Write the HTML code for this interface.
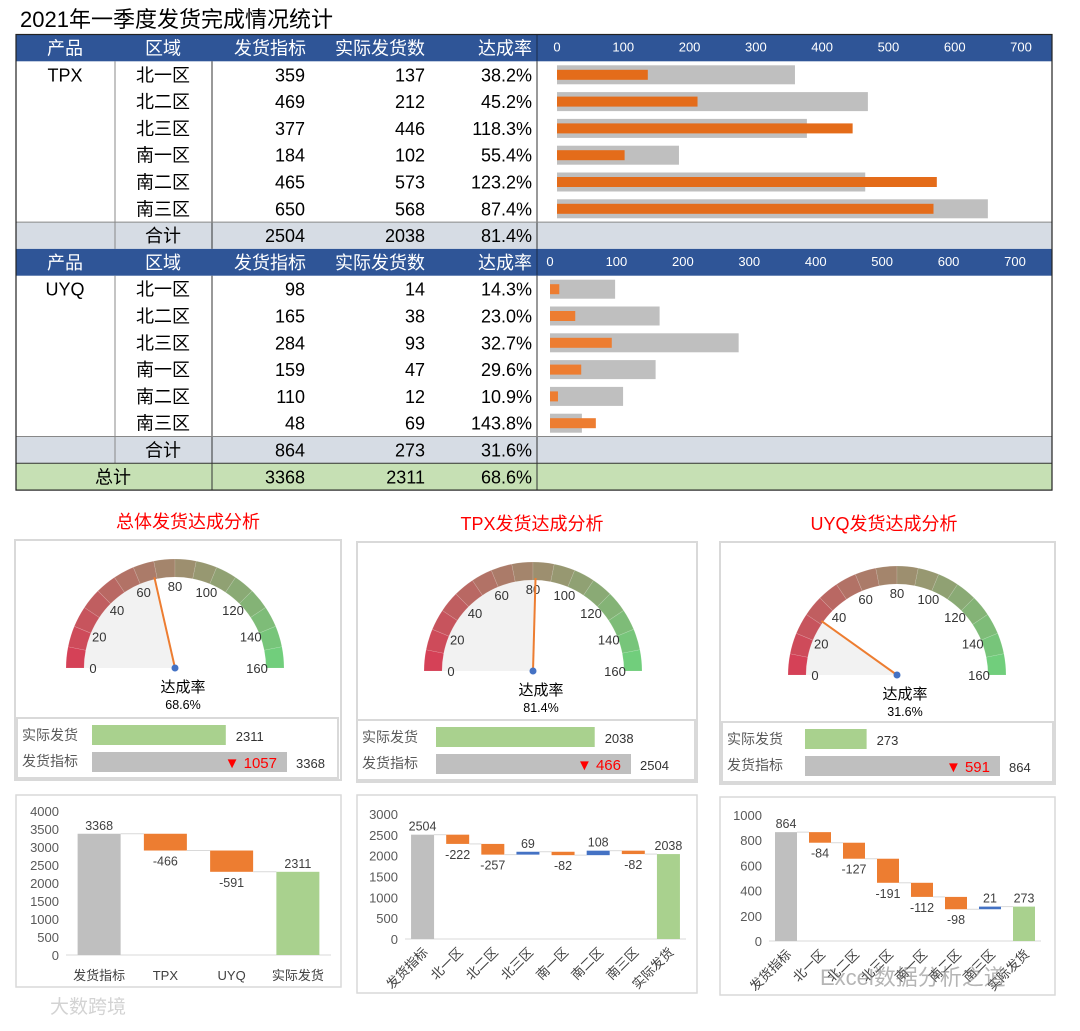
<!DOCTYPE html>
<html><head><meta charset="utf-8"><style>
body{margin:0;background:#fff;}
svg text{font-family:"Liberation Sans","Noto Sans CJK SC",sans-serif;}
</style></head><body>
<svg id="s" width="1080" height="1026" viewBox="0 0 1080 1026" xmlns="http://www.w3.org/2000/svg"></svg>
<script>
const regions=["北一区","北二区","北三区","南一区","南二区","南三区"];
const tpxTarget=[359,469,377,184,465,650];
const tpxActual=[137,212,446,102,573,568];
const uyqTarget=[98,165,284,159,110,48];
const uyqActual=[14,38,93,47,12,69];
const axisTicks=[0,100,200,300,400,500,600,700];
const gaugeTicks=[0,20,40,60,80,100,120,140,160];

const S=document.getElementById('s');
const NS='http://www.w3.org/2000/svg';
function mk(tag,attrs,parent){const e=document.createElementNS(NS,tag);for(const k in attrs)e.setAttribute(k,attrs[k]);(parent||S).appendChild(e);return e;}
function tx(x,y,str,size,fill,anchor,extra){const e=mk('text',Object.assign({x:x,y:y,'font-size':size,fill:fill||'#000','text-anchor':anchor||'start'},extra||{}));e.textContent=str;return e;}
const sum=a=>a.reduce((p,c)=>p+c,0);
const pct=(a,t)=>(a/t*100).toFixed(1)+'%';

let t=tx(20,27,"2021年一季度发货完成情况统计",22,'#000');


const RH=26.8, T0=34.5, L=16, R=1052;
function rowY(i){return T0+i*RH;}
const headers=["产品","区域","发货指标","实际发货数","达成率"];
function header(i,startVal0,axisX1){
  const y=rowY(i);
  let r=mk('rect',{x:L,y:y,width:R-L,height:RH,fill:'#2F5597'});
  
  const cx=[65,163,270,380,505];
  headers.forEach((h,k)=>{let e=tx(k==4?532:cx[k],y+20,h,18,'#fff',k==4?'end':'middle');});
  mk('line',{x1:537,y1:y,x2:537,y2:y+RH,stroke:'#1a2a4a','stroke-width':1});
  const sc=(axisX1-startVal0)/700;
  axisTicks.forEach(v=>{let e=tx(startVal0+v*sc,y+17,String(v),13,'#fff','middle');});
}
function block(start,name,tgt,act,x0,x1){
  header(start,x0,x1);
  const sc=(x1-x0)/700;
  for(let i=0;i<regions.length;i++){
    const y=rowY(start+1+i);
    if(i==0){let e=tx(65,y+20,name,18,'#000','middle');}
    let a=tx(163,y+20,regions[i],18,'#000','middle');
    tx(305,y+20,String(tgt[i]),18,'#000','end');
    tx(425,y+20,String(act[i]),18,'#000','end');
    tx(532,y+20,pct(act[i],tgt[i]),18,'#000','end');
    let g=mk('rect',{x:x0,y:y+4,width:tgt[i]*sc,height:19,fill:'#BFBFBF'});
    
    let o=mk('rect',{x:x0,y:y+8.5,width:act[i]*sc,height:10,fill:name=='TPX'?'#E46C1A':'#ED7D31'});
    
  }
  const ys=rowY(start+7);
  let r=mk('rect',{x:L,y:ys,width:R-L,height:RH,fill:'#D6DCE4'});
  
  tx(163,ys+20,"合计",18,'#000','middle');
  tx(305,ys+20,String(sum(tgt)),18,'#000','end');
  tx(425,ys+20,String(sum(act)),18,'#000','end');
  tx(532,ys+20,pct(sum(act),sum(tgt)),18,'#000','end');
  [[115,'#888'],[212,'#333'],[537,'#333']].forEach(([x,c])=>mk('line',{x1:x,y1:rowY(start+1),x2:x,y2:ys+RH,stroke:c,'stroke-width':1}));
  mk('line',{x1:L,y1:ys,x2:R,y2:ys,stroke:'#888'});
}
block(0,'TPX',tpxTarget,tpxActual,557,1021);
block(8,'UYQ',uyqTarget,uyqActual,550,1015);
const yt=rowY(16);
let tr=mk('rect',{x:L,y:yt,width:R-L,height:RH,fill:'#C6E0B4'});

const allT=sum(tpxTarget)+sum(uyqTarget), allA=sum(tpxActual)+sum(uyqActual);
tx(113,yt+20,"总计",18,'#000','middle');
tx(305,yt+20,String(allT),18,'#000','end');
tx(425,yt+20,String(allA),18,'#000','end');
tx(532,yt+20,pct(allA,allT),18,'#000','end');
[212,537].forEach(x=>mk('line',{x1:x,y1:yt,x2:x,y2:yt+RH,stroke:'#333'}));
mk('line',{x1:L,y1:yt,x2:R,y2:yt,stroke:'#333'});
mk('rect',{x:L,y:T0,width:R-L,height:17*RH,fill:'none',stroke:'#222','stroke-width':1.2});

function lerp(a,b,t){return Math.round(a+(b-a)*t);}
function segColor(f){
  const c0=[217,60,85],c1=[160,138,110],c2=[110,210,125];
  let a,b,t;if(f<0.5){a=c0;b=c1;t=f/0.5;}else{a=c1;b=c2;t=(f-0.5)/0.5;}
  return `rgb(${lerp(a[0],b[0],t)},${lerp(a[1],b[1],t)},${lerp(a[2],b[2],t)})`;
}
function pt(cx,cy,r,v){const p=Math.PI*(1-v/160);return [cx+r*Math.cos(p),cy-r*Math.sin(p)];}
function gauge(o){
  let box=mk('rect',{x:o.bx,y:o.by,width:o.bw,height:o.bh,fill:'#fff',stroke:'#D9D9D9','stroke-width':2});
  
  let ttl=tx(o.tx,o.by-12,o.title,18,'#FF0000','middle');
  
  const {cx,cy}=o,R=109,r=91,v=o.rate*100;
  const w=pt(cx,cy,r,Math.min(v,160));
  let wd=mk('path',{d:`M${cx},${cy} L${cx-r},${cy} A${r},${r} 0 0 1 ${w[0]},${w[1]} Z`,fill:'#F2F2F2'});
  
  for(let k=0;k<16;k++){
    const a=pt(cx,cy,R,k*10),b=pt(cx,cy,R,k*10+10),c=pt(cx,cy,r,k*10+10),d=pt(cx,cy,r,k*10);
    let s=mk('path',{d:`M${a[0]},${a[1]} A${R},${R} 0 0 1 ${b[0]},${b[1]} L${c[0]},${c[1]} A${r},${r} 0 0 0 ${d[0]},${d[1]} Z`,fill:segColor((k+0.5)/16),stroke:'rgba(255,255,255,0.2)','stroke-width':0.6});
    
  }
  gaugeTicks.forEach(g=>{const p=pt(cx,cy,82,g);let e=tx(p[0],p[1]+5,String(g),13,'#333','middle');});
  const n=pt(cx,cy,r+2,v);
  let nd=mk('line',{x1:cx,y1:cy,x2:n[0],y2:n[1],stroke:'#ED7D31','stroke-width':2});
  
  mk('circle',{cx:cx,cy:cy,r:3.5,fill:'#4472C4'});
  tx(cx+8,cy+24,"达成率",15,'#000','middle');
  tx(cx+8,cy+41,(o.rate*100).toFixed(1)+'%',12.5,'#000','middle');
  let bb=mk('rect',{x:o.bbx,y:o.bby,width:o.bbw,height:60,fill:'#fff',stroke:'#D9D9D9','stroke-width':2});
  
  const sc=195/o.target;
  tx(o.bbx+5,o.bby+22,"实际发货",14,'#595959');
  let ga=mk('rect',{x:o.barX,y:o.bby+7,width:o.actual*sc,height:20,fill:'#A9D18E'});
  
  tx(o.barX+o.actual*sc+10,o.bby+23,String(o.actual),13,'#333');
  tx(o.bbx+5,o.bby+48,"发货指标",14,'#595959');
  let gt=mk('rect',{x:o.barX,y:o.bby+34,width:195,height:20,fill:'#BFBFBF'});
  
  tx(o.barX+185,o.bby+50,'▼ '+(o.target-o.actual),15,'#FF0000','end');
  tx(o.barX+195+9,o.bby+50,String(o.target),13,'#333');
}
gauge({bx:15,by:540,bw:326,bh:240,tx:188,title:"总体发货达成分析",cx:175,cy:668,rate:allA/allT,bbx:17,bby:718,bbw:321,barX:92,target:allT,actual:allA});
gauge({bx:357,by:542,bw:340,bh:240,tx:532,title:"TPX发货达成分析",cx:533,cy:671,rate:sum(tpxActual)/sum(tpxTarget),bbx:357,bby:720,bbw:338,barX:436,target:sum(tpxTarget),actual:sum(tpxActual)});
gauge({bx:720,by:542,bw:335,bh:242,tx:884,title:"UYQ发货达成分析",cx:897,cy:675,rate:sum(uyqActual)/sum(uyqTarget),bbx:722,bby:722,bbw:331,barX:805,target:sum(uyqTarget),actual:sum(uyqActual)});

function waterfall(o){
  let box=mk('rect',{x:o.bx,y:o.by,width:o.bw,height:o.bh,fill:'#fff',stroke:'#D9D9D9','stroke-width':1.5});
  
  const Y=v=>o.y0-(v/o.max)*(o.y0-o.yTop);
  for(let v=0;v<=o.max;v+=o.step){let e=tx(o.x0-7,Y(v)+5,String(v),13,'#595959','end');}
  mk('line',{x1:o.x0,y1:o.y0,x2:o.x1,y2:o.y0,stroke:'#D9D9D9'});
  const n=o.cats.length,band=(o.x1-o.x0)/n,bw=o.bw2;
  const C=i=>o.x0+band*(i+0.5);
  let level=o.start;
  for(let i=0;i<n;i++){
    let lo,hi,col,label;
    if(i==0){lo=0;hi=o.start;col='#BFBFBF';label=String(o.start);}
    else if(i==n-1){lo=0;hi=o.end;col='#A9D18E';label=String(o.end);}
    else{const d=o.deltas[i-1];const nl=level+d;lo=Math.min(level,nl);hi=Math.max(level,nl);col=d<0?'#ED7D31':'#4472C4';label=String(d);level=nl;}
    let r=mk('rect',{x:C(i)-bw/2,y:Y(hi),width:bw,height:Math.max(Y(lo)-Y(hi),2),fill:col});
    
    const neg=(i>0&&i<n-1&&o.deltas[i-1]<0);
    tx(C(i),neg?Y(lo)+15:Y(hi)-4,label,12.5,'#404040','middle');
    if(i<n-1){const lv=(i==0)?o.start:level;mk('line',{x1:C(i)+bw/2,y1:Y(lv),x2:C(i+1)-bw/2,y2:Y(lv),stroke:'#D9D9D9'});}
    if(o.rot){let e=tx(0,0,o.cats[i],13,'#404040','end',{transform:`translate(${C(i)+6},${o.y0+14}) rotate(-45)`});}
    else{let e=tx(C(i),o.y0+25,o.cats[i],13,'#404040','middle');}
  }
}
const diff=(a,b)=>a.map((v,i)=>v-b[i]);
waterfall({bx:16,by:795,bw:325,bh:192,x0:66,x1:331,y0:955,yTop:811,max:4000,step:500,bw2:43,
  cats:["发货指标","TPX","UYQ","实际发货"],start:allT,end:allA,
  deltas:[sum(tpxActual)-sum(tpxTarget),sum(uyqActual)-sum(uyqTarget)],rot:false});
waterfall({bx:357,by:795,bw:340,bh:198,x0:405,x1:686,y0:939,yTop:814,max:3000,step:500,bw2:23,
  cats:["发货指标"].concat(regions,["实际发货"]),start:sum(tpxTarget),end:sum(tpxActual),deltas:diff(tpxActual,tpxTarget),rot:true});
waterfall({bx:720,by:797,bw:335,bh:198,x0:769,x1:1041,y0:941,yTop:815,max:1000,step:200,bw2:22,
  cats:["发货指标"].concat(regions,["实际发货"]),start:sum(uyqTarget),end:sum(uyqActual),deltas:diff(uyqActual,uyqTarget),rot:true});

let w1=tx(820,985,"Excel数据分析之道",22,'rgba(120,120,120,0.55)');
let w2=tx(50,1013,"大数跨境",19,'rgba(200,200,200,0.8)');
</script>
</body></html>
